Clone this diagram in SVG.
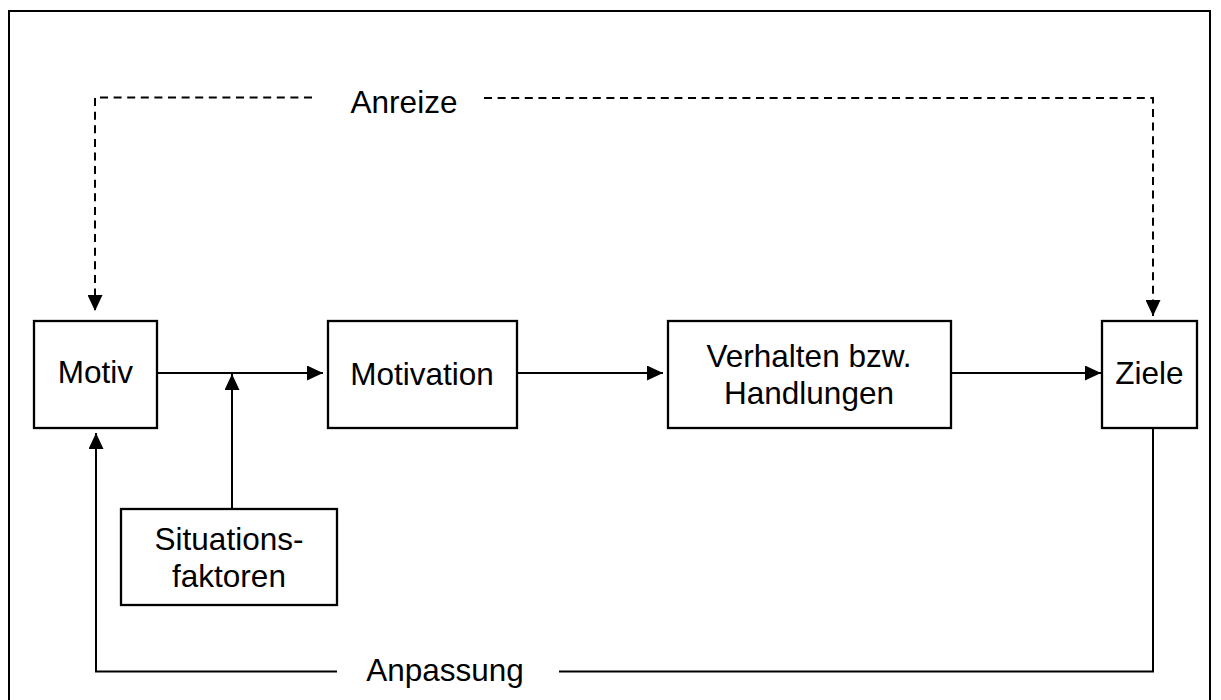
<svg xmlns="http://www.w3.org/2000/svg" width="1221" height="700" viewBox="0 0 1221 700">
  <style>
    .box { fill: #fff; stroke: #000; stroke-width: 2.3; }
    .lbl { font-family: "Liberation Sans", Arial, sans-serif; font-size: 31.5px; fill: #000; text-anchor: middle; }
    .ln { fill: none; stroke: #000; stroke-width: 2; }
    .dash { fill: none; stroke: #000; stroke-width: 2; stroke-dasharray: 8 5.6; }
  </style>
  <defs>
    <marker id="arr" markerUnits="userSpaceOnUse" markerWidth="16" markerHeight="15" refX="16" refY="7.5" orient="auto" viewBox="0 0 16 15">
      <path d="M0,0 L16,7.5 L0,15 z" fill="#000"/>
    </marker>
  </defs>
  <rect x="0" y="0" width="1221" height="700" fill="#fff"/>
  <rect id="frame" x="9" y="11" width="1201" height="700" fill="none" stroke="#000" stroke-width="2"/>

  <g id="connectors">
    <!-- Anreize dashed -->
    <path class="dash" d="M312,97.5 L95,97.5 L95,311" marker-end="url(#arr)"/>
    <path class="dash" d="M484,98 L1153,98 L1153,316" marker-end="url(#arr)"/>
    <!-- main flow -->
    <path class="ln" d="M157,373 L323,373" marker-end="url(#arr)"/>
    <path class="ln" d="M517,373 L663,373" marker-end="url(#arr)"/>
    <path class="ln" d="M951,373 L1101,373" marker-end="url(#arr)"/>
    <!-- situation factors -->
    <path class="ln" d="M232,509 L232,374" marker-end="url(#arr)"/>
    <!-- Anpassung feedback -->
    <path class="ln" d="M1153,428 L1153,672"/>
    <path class="ln" d="M1154,671.5 L559,671.5"/>
    <path class="ln" d="M337,671.5 L96,671.5 L96,433" marker-end="url(#arr)"/>
  </g>

  <g id="label-anreize"><text class="lbl" x="404" y="113">Anreize</text></g>
  <g id="label-anpassung"><text class="lbl" x="445" y="681">Anpassung</text></g>

  <g id="motiv">
    <rect class="box" x="34" y="321" width="123" height="107"/>
    <text class="lbl" x="95.5" y="383">Motiv</text>
  </g>
  <g id="motivation">
    <rect class="box" x="328" y="321" width="189" height="107"/>
    <text class="lbl" x="422" y="384.5">Motivation</text>
  </g>
  <g id="verhalten">
    <rect class="box" x="668" y="321" width="283" height="107"/>
    <text class="lbl" x="809" y="367">Verhalten bzw.</text>
    <text class="lbl" x="809" y="404">Handlungen</text>
  </g>
  <g id="ziele">
    <rect class="box" x="1102" y="321" width="95" height="107"/>
    <text class="lbl" x="1149.5" y="383.5">Ziele</text>
  </g>
  <g id="situationsfaktoren">
    <rect class="box" x="121" y="509" width="216" height="96"/>
    <text class="lbl" x="229" y="550">Situations-</text>
    <text class="lbl" x="229" y="587">faktoren</text>
  </g>
</svg>
